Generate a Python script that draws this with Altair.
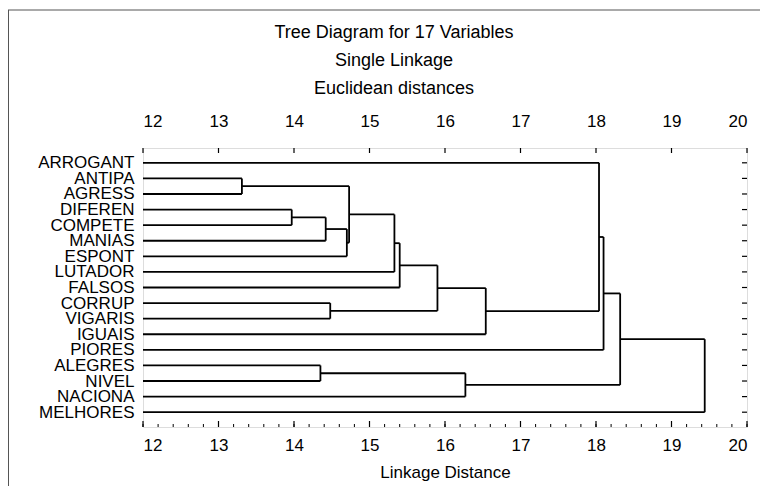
import altair as alt
import pandas as pd

# ---------------- data ----------------
title_lines = ["Tree Diagram for 17 Variables", "Single Linkage", "Euclidean distances"]
leaves = ["ARROGANT", "ANTIPA", "AGRESS", "DIFEREN", "COMPETE", "MANIAS", "ESPONT",
          "LUTADOR", "FALSOS", "CORRUP", "VIGARIS", "IGUAIS", "PIORES", "ALEGRES",
          "NIVEL", "NACIONA", "MELHORES"]
# merge k creates node "N<k>" (1-based)
merge_left = ["ANTIPA", "DIFEREN", "N2", "N3", "N1", "N5", "N6", "CORRUP", "N7", "N9",
              "ARROGANT", "N11", "ALEGRES", "N13", "N12", "N15"]
merge_right = ["AGRESS", "COMPETE", "MANIAS", "ESPONT", "N4", "LUTADOR", "FALSOS", "VIGARIS",
               "N8", "IGUAIS", "N10", "PIORES", "NIVEL", "NACIONA", "N14", "MELHORES"]
merge_height = [13.31, 13.97, 14.42, 14.70, 14.73, 15.33, 15.40, 14.48, 15.90, 16.54,
                18.04, 18.10, 14.35, 16.27, 18.32, 19.44]
major_ticks = [12, 13, 14, 15, 16, 17, 18, 19, 20]
minor_ticks = [round(12 + 0.2 * i, 1) for i in range(41)]

X_MIN, X_MAX = 12, 20

# ---------------- build segments ----------------
pos = {name: (X_MIN, i) for i, name in enumerate(leaves)}
rows = []
for k, (l, r, h) in enumerate(zip(merge_left, merge_right, merge_height), start=1):
    xl, yl = pos[l]
    xr, yr = pos[r]
    rows.append({"x": xl, "x2": h, "y": yl, "y2": yl})
    rows.append({"x": xr, "x2": h, "y": yr, "y2": yr})
    rows.append({"x": h, "x2": h, "y": yl, "y2": yr})
    pos[f"N{k}"] = (h, (yl + yr) / 2)
segs = pd.DataFrame(rows)

W, H = 604, 279
FONT = "Liberation Sans"
xscale = alt.Scale(domain=[X_MIN, X_MAX], nice=False, zero=False)
yscale = alt.Scale(domain=[-0.95, 16.95], reverse=True, nice=False, zero=False)

label_expr = "[" + ",".join(f"'{n}'" for n in leaves) + "][datum.value]"

dendro = alt.Chart(segs).mark_rule(color="black", strokeWidth=1.8).encode(
    x=alt.X("x:Q", scale=xscale,
            axis=alt.Axis(orient="bottom", values=major_ticks, format="d", title="Linkage Distance",
                          grid=False, domain=False, ticks=False, labelFontSize=17,
                          labelPadding=10, titleFontSize=17, titleFontWeight="normal",
                          titlePadding=11, labelColor="black", titleColor="black",
                          labelFont=FONT, titleFont=FONT)),
    x2="x2:Q",
    y=alt.Y("y:Q", scale=yscale,
            axis=alt.Axis(orient="left", values=list(range(len(leaves))), labelExpr=label_expr,
                          title=None, grid=False, domain=False, ticks=False, labelOverlap=False,
                          labelFontSize=17, labelPadding=9, labelColor="black", labelFont=FONT)),
    y2="y2:Q",
)

top_df = pd.DataFrame({"t": major_ticks})
top_ticks = alt.Chart(top_df).mark_rule(color="black", strokeWidth=1.2).encode(
    x=alt.X("t:Q", scale=xscale,
            axis=alt.Axis(orient="top", values=major_ticks, format="d", title=None,
                          grid=False, domain=False, ticks=False, labelFontSize=17,
                          labelPadding=18, labelColor="black", labelFont=FONT)),
    y=alt.value(0), y2=alt.value(5),
)

bot_major = alt.Chart(top_df).mark_rule(color="black", strokeWidth=1.2).encode(
    x=alt.X("t:Q", scale=xscale, axis=None),
    y=alt.value(H), y2=alt.value(H - 6),
)
minor_df = pd.DataFrame({"t": minor_ticks})
bot_minor = alt.Chart(minor_df).mark_rule(color="black", strokeWidth=1).encode(
    x=alt.X("t:Q", scale=xscale, axis=None),
    y=alt.value(H), y2=alt.value(H - 3),
)

right_df = pd.DataFrame({"r": list(range(len(leaves)))})
right_ticks = alt.Chart(right_df).mark_rule(color="black", strokeWidth=1.2).encode(
    y=alt.Y("r:Q", scale=yscale, axis=None),
    x=alt.value(W), x2=alt.value(W - 5),
)

frame_df = pd.DataFrame({"k": [0]})
outer_top = alt.Chart(frame_df).mark_rule(color="#555", strokeWidth=1).encode(
    x=alt.value(-135), x2=alt.value(W + 20), y=alt.value(-138))
outer_left = alt.Chart(frame_df).mark_rule(color="#555", strokeWidth=1).encode(
    x=alt.value(-134.5), y=alt.value(-138), y2=alt.value(H + 70))

title_layers = []
for i, line in enumerate(title_lines):
    tdf = pd.DataFrame({"txt": [line]})
    title_layers.append(
        alt.Chart(tdf).mark_text(fontSize=18, font=FONT, color="black", align="center",
                                 baseline="alphabetic").encode(
            text="txt:N", x=alt.value(251), y=alt.value(-110 + 28 * i))
    )

chart = alt.layer(
    outer_top, outer_left, *title_layers, bot_minor, bot_major, right_ticks, top_ticks, dendro
).resolve_axis(x="independent", y="independent").properties(
    width=W, height=H,
    autosize=alt.AutoSizeParams(type="none"),
    padding={"left": 135, "top": 140, "right": 13, "bottom": 59},
).configure_view(stroke="black", strokeWidth=1.6).configure(background="white")

chart.save("out.html", embed_options={"renderer": "svg", "actions": False})
